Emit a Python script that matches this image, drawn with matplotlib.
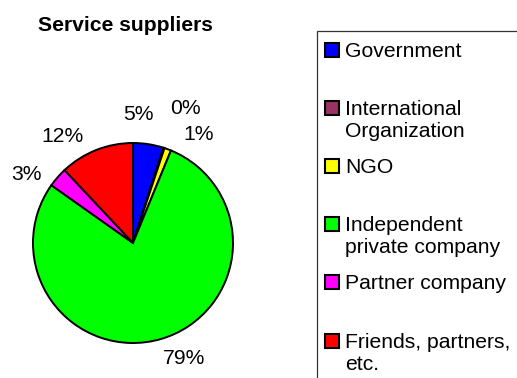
import matplotlib
matplotlib.use("Agg")
import matplotlib.pyplot as plt
from matplotlib.patches import Rectangle

plt.rcParams['font.family'] = ['Liberation Sans', 'DejaVu Sans']

# Share of each supplier type (percent)
categories = ["Government", "International\nOrganization", "NGO",
              "Independent\nprivate company", "Partner company",
              "Friends, partners,\netc."]
shares = [4.9, 0.2, 1.1, 78.6, 3.2, 12.0]
colors = ["#0000FF", "#993366", "#FFFF00", "#00FF00", "#FF00FF", "#FF0000"]

W, H = 517, 378
fig = plt.figure(figsize=(W / 100, H / 100), dpi=100)

def fx(px):
    return px / W

def fy(py):
    return 1 - py / H

FS = 15.2  # text size in points

# Pie area: centre (133, 243) px, radius 100 px
cx, cy, r = 133, 243, 100
ax = fig.add_axes([fx(cx - r), fy(cy + r), 2 * r / W, 2 * r / H])
wedges, texts, autotexts = ax.pie(
    shares, colors=colors, startangle=90, counterclock=False,
    autopct=lambda p: f"{p:.0f}%", pctdistance=1.2,
    wedgeprops=dict(edgecolor="black", linewidth=1.4),
    textprops=dict(fontsize=FS, color="black"))
ax.set_xlim(-1, 1)
ax.set_ylim(-1, 1)
ax.set_aspect("equal")
ax.axis("off")

# Percentage label placement (pie radius units)
label_xy = [(0.05, 1.28), (0.52, 1.34), (0.66, 1.09),
            (0.51, -1.15), (-1.07, 0.69), (-0.71, 1.06)]
for t, (x, y) in zip(autotexts, label_xy):
    t.set_position((x, y))
    t.set_ha("center")
    t.set_va("center")

# Title
fig.text(fx(125), fy(31), "Service suppliers", ha="center", va="baseline",
         fontsize=FS, fontweight="bold")

# Legend box running off the right and bottom edges
fig.patches.append(Rectangle((fx(317), fy(400)), fx(230), 369 / H,
                             transform=fig.transFigure, facecolor="none",
                             edgecolor="#333333", linewidth=0.9))
entry_y = [50, 108, 166, 224, 282, 341]
sq = 14
for lab, col, yc in zip(categories, colors, entry_y):
    fig.patches.append(Rectangle((fx(325), fy(yc + sq / 2)), sq / W, sq / H,
                                 transform=fig.transFigure, facecolor=col,
                                 edgecolor="black", linewidth=1.5))
    fig.text(fx(345), fy(yc - 8), lab, ha="left", va="top",
             fontsize=FS, linespacing=1.2)

fig.savefig("out.png", dpi=100)
